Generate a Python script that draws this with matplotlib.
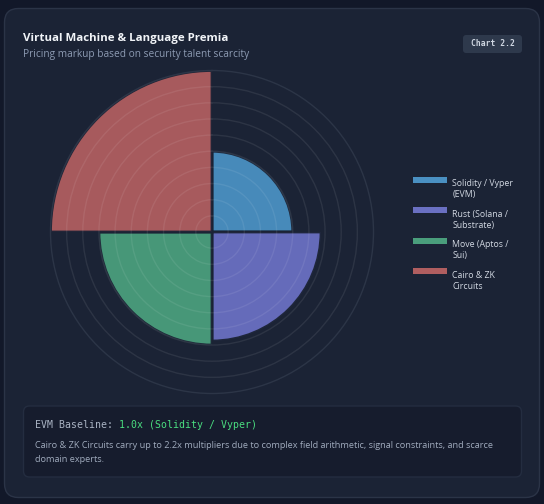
import numpy as np
import matplotlib
matplotlib.use("Agg")
import matplotlib.pyplot as plt
from matplotlib.patches import FancyBboxPatch, Rectangle

# data
labels = ["Solidity / Vyper\n(EVM)", "Rust (Solana /\nSubstrate)", "Move (Aptos /\nSui)", "Cairo & ZK\nCircuits"]
multipliers = [1.0, 1.35, 1.4, 2.0]
colors = ["#4a90c2", "#6a70c2", "#4a9e7c", "#b05e60"]
ring_ticks = [0.2, 0.4, 0.6, 0.8, 1.0, 1.2, 1.4, 1.6, 1.8]
r_max = 2.0

page_bg = "#121829"
card_bg = "#1b2335"
font = ["Open Sans", "DejaVu Sans"]
mono = ["DejaVu Sans Mono"]

W, H = 544, 504
fig = plt.figure(figsize=(W / 100, H / 100), dpi=100)
fig.patch.set_facecolor(page_bg)

# background layer in pixel units
bg = fig.add_axes([0, 0, 1, 1])
bg.set_xlim(0, W)
bg.set_ylim(H, 0)
bg.axis("off")
bg.add_patch(FancyBboxPatch((4.5, 8.5), 535, 489, boxstyle="round,pad=0,rounding_size=14",
                            fc=card_bg, ec="#2b3447", lw=1))
bg.text(23, 38, "Virtual Machine & Language Premia", fontsize=8.25, fontweight="bold",
        color="#f1f4f8", va="center", family=font)
bg.text(23, 54, "Pricing markup based on security talent scarcity", fontsize=7.3,
        color="#8d9bb3", va="center", family=font)
bg.add_patch(FancyBboxPatch((463, 35), 59, 18, boxstyle="round,pad=0,rounding_size=3",
                            fc="#2e394c", ec="none"))
bg.text(492.5, 44, "Chart 2.2", fontsize=5.8, color="#d0d7e2", ha="center", va="center",
        family=mono, fontweight="bold")

# note box
bg.add_patch(FancyBboxPatch((23.5, 406), 498, 71, boxstyle="round,pad=0,rounding_size=6",
                            fc="#161c2d", ec="#242d40", lw=1))
t1 = bg.text(35, 425, "EVM Baseline: ", fontsize=7.1, color="#aab4c4", va="center", family=mono)
fig.canvas.draw()
bb = t1.get_window_extent()
x_end = bg.transData.inverted().transform((bb.x1, bb.y0))[0]
bg.text(x_end, 425, "1.0x (Solidity / Vyper)", fontsize=7.1, color="#4ade80", va="center",
        family=mono)
bg.text(35, 445.5, "Cairo & ZK Circuits carry up to 2.2x multipliers due to complex field "
        "arithmetic, signal constraints, and scarce", fontsize=6.55, color="#a0abbd",
        va="center", family=font)
bg.text(35, 459.5, "domain experts.", fontsize=6.55, color="#a0abbd", va="center", family=font)

# polar area chart
cx, cy, rad = 212, 232, 161.5
ax = fig.add_axes([(cx - rad) / W, (H - cy - rad) / H, 2 * rad / W, 2 * rad / H],
                  projection="polar")
ax.set_facecolor("none")
ax.set_theta_zero_location("N")
ax.set_theta_direction(-1)
theta = np.arange(len(multipliers)) * np.pi / 2 + np.pi / 4
ax.bar(theta, multipliers, width=np.pi / 2, color=colors, alpha=0.95,
       edgecolor=card_bg, linewidth=2, zorder=1)
ax.set_ylim(0, r_max)
ax.set_rticks(ring_ticks)
ax.set_yticklabels([])
ax.set_xticks([])
ax.yaxis.grid(True, color="white", alpha=0.08, linewidth=1)
ax.xaxis.grid(False)
ax.set_axisbelow(False)
ax.spines["polar"].set_color("#2c3547")
ax.spines["polar"].set_linewidth(1)

# legend
for i, (lab, col) in enumerate(zip(labels, colors)):
    y = 179.5 + i * 30.5
    bg.add_patch(Rectangle((413, y - 3), 34, 6, fc=col, ec="none"))
    bg.text(452.5, y - 0.5, lab, fontsize=6.3, color="#d2d8e2", va="top", family=font,
            linespacing=1.3)

fig.savefig("out.png", dpi=100, facecolor=page_bg)
